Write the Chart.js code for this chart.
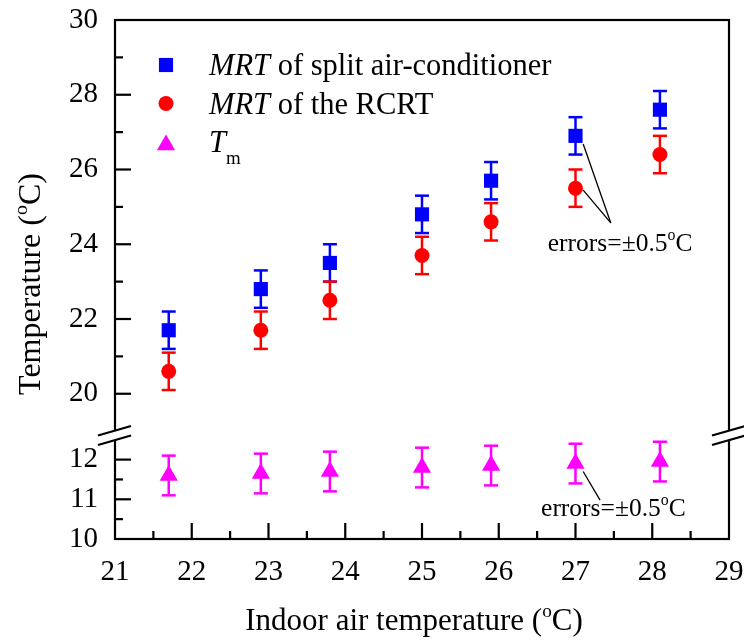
<!DOCTYPE html>
<html>
<head>
<meta charset="utf-8">
<title>Temperature</title>
<script src="https://cdn.jsdelivr.net/npm/chart.js@4.4.0/dist/chart.umd.min.js"></script>
<style>
    html, body { margin: 0; padding: 0; background: #fff; }
    canvas { display: block; }
</style>
</head>
<body>
<canvas id="myChart" width="744" height="641"></canvas>
<script>
// data
var indoorTemp = [21.7, 22.9, 23.8, 25.0, 25.9, 27.0, 28.1];
var mrtSplit = [21.7, 22.8, 23.5, 24.8, 25.7, 26.9, 27.6];
var mrtRcrt = [20.6, 21.7, 22.5, 23.7, 24.6, 25.5, 26.4];
var tempM = [11.6, 11.65, 11.7, 11.8, 11.85, 11.9, 11.95];
var errSplit = [0.5, 0.5, 0.5, 0.5, 0.5, 0.5, 0.5];
var errRcrt = [0.5, 0.5, 0.5, 0.5, 0.5, 0.5, 0.5];
var errM = [0.5, 0.5, 0.5, 0.5, 0.5, 0.5, 0.5];

// ticks
var xTickLabels = [21, 22, 23, 24, 25, 26, 27, 28, 29];
var xMinorTicks = [21.5, 22.5, 23.5, 24.5, 25.5, 26.5, 27.5, 28.5];
var yTopTickLabels = [20, 22, 24, 26, 28, 30];
var yTopMinorTicks = [21, 23, 25, 27, 29];
var yBottomTickLabels = [10, 11, 12];
var yBottomMinorTicks = [10.5, 11.5];

var serif = '"Liberation Serif", "Times New Roman", serif';

function toPoints(xs, ys) {
    return xs.map(function (x, i) { return { x: x, y: ys[i] }; });
}

// text with superscript / subscript parts
function partsWidth(ctx, parts, size) {
    var w = 0;
    parts.forEach(function (p) {
        var s = p.sup || p.sub ? size * 0.62 : size;
        ctx.font = (p.italic ? 'italic ' : '') + s + 'px ' + serif;
        w += ctx.measureText(p.t).width;
    });
    return w;
}

function drawParts(ctx, parts, x, y, size) {
    ctx.textBaseline = 'alphabetic';
    ctx.textAlign = 'left';
    parts.forEach(function (p) {
        var s = p.sup || p.sub ? size * 0.62 : size;
        var dy = p.sup ? -size * 0.42 : (p.sub ? size * 0.4 : 0);
        ctx.font = (p.italic ? 'italic ' : '') + s + 'px ' + serif;
        ctx.fillText(p.t, x, y + dy);
        x += ctx.measureText(p.t).width;
    });
}

function line(ctx, x1, y1, x2, y2) {
    ctx.beginPath();
    ctx.moveTo(x1, y1);
    ctx.lineTo(x2, y2);
    ctx.stroke();
}

var degC = [{ t: 'o', sup: true }, { t: 'C' }];

// error bars
var errorBars = {
    id: 'errorBars',
    beforeDatasetsDraw: function (chart) {
        var ctx = chart.ctx;
        var errs = [errSplit, errRcrt, errM];
        ctx.save();
        ctx.lineWidth = 2.5;
        chart.data.datasets.forEach(function (ds, i) {
            var ys = chart.scales[ds.yAxisID];
            var xs = chart.scales.x;
            ctx.strokeStyle = ds.backgroundColor;
            ds.data.forEach(function (p, j) {
                var px = xs.getPixelForValue(p.x);
                var top = ys.getPixelForValue(p.y + errs[i][j]);
                var bot = ys.getPixelForValue(p.y - errs[i][j]);
                line(ctx, px, top, px, bot);
                line(ctx, px - 7, top, px + 7, top);
                line(ctx, px - 7, bot, px + 7, bot);
            });
        });
        ctx.restore();
    }
};

// frame, inward ticks, axis break, legend, titles, notes
var decorations = {
    id: 'decorations',
    afterDraw: function (chart) {
        var ctx = chart.ctx;
        var a = chart.chartArea;
        var x = chart.scales.x, yt = chart.scales.yTop, yb = chart.scales.yBottom;
        var brk = yb.top;
        ctx.save();
        ctx.strokeStyle = '#000';
        ctx.fillStyle = '#000';
        ctx.lineWidth = 2.2;
        ctx.lineCap = 'butt';

        // frame
        ctx.strokeRect(a.left, a.top, a.right - a.left, a.bottom - a.top);

        // ticks
        xTickLabels.slice(1, -1).forEach(function (v) {
            var p = x.getPixelForValue(v);
            line(ctx, p, a.bottom, p, a.bottom - 16);
        });
        xMinorTicks.forEach(function (v) {
            var p = x.getPixelForValue(v);
            line(ctx, p, a.bottom, p, a.bottom - 8);
        });
        yTopTickLabels.slice(0, -1).forEach(function (v) {
            var p = yt.getPixelForValue(v);
            line(ctx, a.left, p, a.left + 16, p);
        });
        yTopMinorTicks.forEach(function (v) {
            var p = yt.getPixelForValue(v);
            line(ctx, a.left, p, a.left + 8, p);
        });
        yBottomTickLabels.slice(1).forEach(function (v) {
            var p = yb.getPixelForValue(v);
            line(ctx, a.left, p, a.left + 16, p);
        });
        yBottomMinorTicks.forEach(function (v) {
            var p = yb.getPixelForValue(v);
            line(ctx, a.left, p, a.left + 8, p);
        });

        // axis break marks
        [a.left, a.right].forEach(function (cx) {
            var cy = brk + 2.5;
            ctx.fillStyle = '#fff';
            ctx.beginPath();
            ctx.moveTo(cx - 17, cy + 0.5);
            ctx.lineTo(cx + 16, cy - 9);
            ctx.lineTo(cx + 16, cy + 0.5);
            ctx.lineTo(cx - 17, cy + 9.5);
            ctx.closePath();
            ctx.fill();
            line(ctx, cx - 17, cy, cx + 16, cy - 9.5);
            line(ctx, cx - 17, cy + 9.5, cx + 16, cy);
        });
        ctx.fillStyle = '#000';

        // legend
        var legend = [
            [{ t: 'MRT', italic: true }, { t: ' of split air-conditioner' }],
            [{ t: 'MRT', italic: true }, { t: ' of the RCRT' }],
            [{ t: 'T', italic: true }, { t: 'm', sub: true }]
        ];
        var styles = ['rect', 'circle', 'triangle'];
        var radii = [10, 7.5, 10.5];
        chart.data.datasets.forEach(function (ds, i) {
            var my = 65 + i * 38.5;
            ctx.fillStyle = ds.backgroundColor;
            Chart.helpers.drawPoint(ctx, { pointStyle: styles[i], radius: radii[i], borderWidth: 0 }, 166, my + (i == 2 ? 3 : 0));
            ctx.fillStyle = '#000';
            drawParts(ctx, legend[i], 209, my + 10, 30.5);
        });

        // axis titles
        var xt = [{ t: 'Indoor air temperature (' }].concat(degC, [{ t: ')' }]);
        drawParts(ctx, xt, 414 - partsWidth(ctx, xt, 31) / 2, 630, 31);
        var ytl = [{ t: 'Temperature (' }].concat(degC, [{ t: ')' }]);
        ctx.save();
        ctx.translate(40, 284);
        ctx.rotate(-Math.PI / 2);
        drawParts(ctx, ytl, -partsWidth(ctx, ytl, 32) / 2, 0, 32);
        ctx.restore();

        // error notes
        var note = [{ t: 'errors=\u00b10.5' }].concat(degC);
        ctx.lineWidth = 1.3;
        var tip = { x: x.getPixelForValue(27.46), y: yt.getPixelForValue(24.57) };
        line(ctx, x.getPixelForValue(27.1), yt.getPixelForValue(26.68), tip.x, tip.y);
        line(ctx, x.getPixelForValue(27.1), yt.getPixelForValue(25.45), tip.x, tip.y);
        drawParts(ctx, note, tip.x - 63, tip.y + 28, 25.5);
        var tip2 = { x: x.getPixelForValue(27.32), y: yb.getPixelForValue(10.98) };
        line(ctx, x.getPixelForValue(27.1), yb.getPixelForValue(11.7), tip2.x, tip2.y);
        drawParts(ctx, note, tip2.x - 59, tip2.y + 16, 25.5);

        ctx.restore();
    }
};

function fixedTicks(values) {
    return function (scale) {
        scale.ticks = values.map(function (v) { return { value: v }; });
    };
}

// keep tick labels from pushing the plot area in
function noPad(scale) {
    scale.paddingTop = 0;
    scale.paddingBottom = 0;
    scale.paddingLeft = 0;
    scale.paddingRight = 0;
}

var tickFont = { family: serif, size: 29 };

var config = {
    type: 'scatter',
    data: {
        datasets: [
            {
                label: 'MRT of split air-conditioner',
                data: toPoints(indoorTemp, mrtSplit),
                yAxisID: 'yTop',
                pointStyle: 'rect',
                pointRadius: 10,
                backgroundColor: '#0000ff',
                borderWidth: 0
            },
            {
                label: 'MRT of the RCRT',
                data: toPoints(indoorTemp, mrtRcrt),
                yAxisID: 'yTop',
                pointStyle: 'circle',
                pointRadius: 7.5,
                backgroundColor: '#ff0000',
                borderWidth: 0
            },
            {
                label: 'Tm',
                data: toPoints(indoorTemp, tempM),
                yAxisID: 'yBottom',
                pointStyle: 'triangle',
                pointRadius: 10.5,
                backgroundColor: '#ff00ff',
                borderWidth: 0
            }
        ]
    },
    options: {
        responsive: false,
        animation: false,
        layout: { padding: { top: 20, right: 15, left: 0, bottom: 0 } },
        plugins: { legend: { display: false }, tooltip: { enabled: false } },
        elements: { point: { hoverRadius: 10 } },
        scales: {
            x: {
                type: 'linear',
                min: 21,
                max: 29,
                grid: { display: false, drawTicks: false },
                border: { display: false },
                afterBuildTicks: fixedTicks(xTickLabels),
                afterFit: function (s) { s.height = 102; noPad(s); },
                ticks: { font: tickFont, color: '#000', padding: 16, maxRotation: 0, autoSkip: false }
            },
            yBottom: {
                type: 'linear',
                position: 'left',
                stack: 'temp',
                stackWeight: 106,
                min: 10,
                max: 12.67,
                grid: { display: false, drawTicks: false },
                border: { display: false },
                afterBuildTicks: fixedTicks(yBottomTickLabels),
                afterFit: function (s) { s.width = 115; noPad(s); },
                ticks: { font: tickFont, color: '#000', padding: 17, autoSkip: false }
            },
            yTop: {
                type: 'linear',
                position: 'left',
                stack: 'temp',
                stackWeight: 413,
                min: 18.95,
                max: 30,
                grid: { display: false, drawTicks: false },
                border: { display: false },
                afterBuildTicks: fixedTicks(yTopTickLabels),
                afterFit: function (s) { s.width = 115; noPad(s); },
                ticks: { font: tickFont, color: '#000', padding: 17, autoSkip: false }
            }
        }
    },
    plugins: [errorBars, decorations]
};

var myChart = new Chart(document.getElementById('myChart'), config);
</script>
</body>
</html>
